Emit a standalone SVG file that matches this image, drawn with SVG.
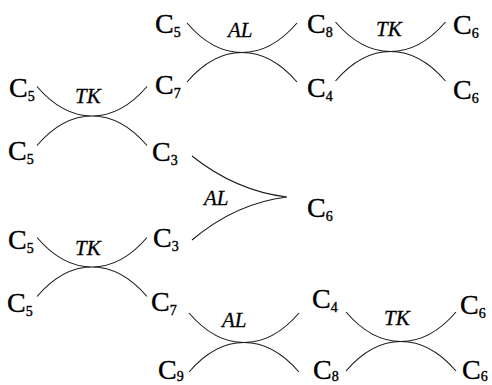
<svg xmlns="http://www.w3.org/2000/svg" width="492" height="385" viewBox="0 0 492 385">
<style>
.c{font-family:"Liberation Serif","DejaVu Serif",serif;font-size:28px;fill:#000;stroke:#000;stroke-width:0.4}
.s{font-size:14px}
.op{font-family:"Liberation Serif","DejaVu Serif",serif;font-size:21px;font-style:italic;fill:#000;stroke:#000;stroke-width:0.3}
.ln{fill:none;stroke:#1a1a1a;stroke-width:1.1}
</style>
<defs>
<path id="xs" d="M-55,-29.5 C-40,-12 -22,0 0,0 C22,0 40,-12 55,-29.5 M-55,29.5 C-40,12 -22,0 0,0 C22,0 40,12 55,29.5"/>
</defs>
<rect width="492" height="385" fill="#fff"/>
<g id="connectors" class="ln">
<use href="#xs" transform="translate(92,116)"/>
<use href="#xs" transform="translate(242,52.5)"/>
<use href="#xs" transform="translate(390.5,51.5)"/>
<use href="#xs" transform="translate(92,267)"/>
<use href="#xs" transform="translate(244,342.5)"/>
<use href="#xs" transform="translate(401,341.5)"/>
<path d="M192,156 Q236,191 287,197 M192,240 Q236,203 287,197"/>
</g>
<g id="n-c5-a"><text class="c" x="9" y="97">C<tspan class="s" dy="4">5</tspan></text></g>
<g id="n-c5-b"><text class="c" x="8" y="160">C<tspan class="s" dy="4">5</tspan></text></g>
<g id="op-tk1"><text class="op" x="75" y="103">TK</text></g>
<g id="n-c7-a"><text class="c" x="155" y="94">C<tspan class="s" dy="4">7</tspan></text></g>
<g id="n-c3-a"><text class="c" x="152" y="161">C<tspan class="s" dy="4">3</tspan></text></g>
<g id="n-c5-c"><text class="c" x="155" y="33">C<tspan class="s" dy="4">5</tspan></text></g>
<g id="op-al1"><text class="op" x="228" y="37">AL</text></g>
<g id="n-c8-a"><text class="c" x="307" y="33">C<tspan class="s" dy="4">8</tspan></text></g>
<g id="n-c4-a"><text class="c" x="307" y="97">C<tspan class="s" dy="4">4</tspan></text></g>
<g id="op-tk2"><text class="op" x="376" y="36">TK</text></g>
<g id="n-c6-a"><text class="c" x="453" y="34">C<tspan class="s" dy="4">6</tspan></text></g>
<g id="n-c6-b"><text class="c" x="453" y="99">C<tspan class="s" dy="4">6</tspan></text></g>
<g id="op-al2"><text class="op" x="204" y="205">AL</text></g>
<g id="n-c6-c"><text class="c" x="307" y="217">C<tspan class="s" dy="4">6</tspan></text></g>
<g id="n-c5-d"><text class="c" x="8" y="249">C<tspan class="s" dy="4">5</tspan></text></g>
<g id="op-tk3"><text class="op" x="75" y="255">TK</text></g>
<g id="n-c3-b"><text class="c" x="153" y="247">C<tspan class="s" dy="4">3</tspan></text></g>
<g id="n-c5-e"><text class="c" x="7" y="312">C<tspan class="s" dy="4">5</tspan></text></g>
<g id="n-c7-b"><text class="c" x="151" y="311">C<tspan class="s" dy="4">7</tspan></text></g>
<g id="op-al3"><text class="op" x="222" y="327">AL</text></g>
<g id="n-c4-b"><text class="c" x="312" y="308">C<tspan class="s" dy="4">4</tspan></text></g>
<g id="op-tk4"><text class="op" x="384" y="325">TK</text></g>
<g id="n-c6-d"><text class="c" x="460" y="314">C<tspan class="s" dy="4">6</tspan></text></g>
<g id="n-c9"><text class="c" x="158" y="379">C<tspan class="s" dy="2">9</tspan></text></g>
<g id="n-c8-b"><text class="c" x="313" y="379">C<tspan class="s" dy="2">8</tspan></text></g>
<g id="n-c6-e"><text class="c" x="462" y="379">C<tspan class="s" dy="2">6</tspan></text></g>
</svg>
